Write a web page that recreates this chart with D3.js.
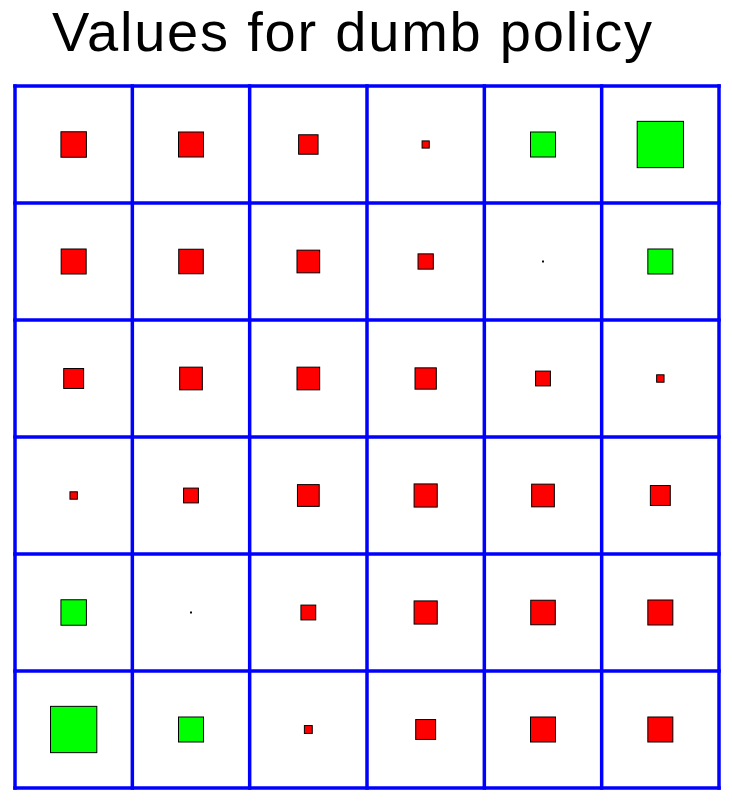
<!DOCTYPE html>
<html>
<head>
<meta charset="utf-8">
<script src="https://cdn.jsdelivr.net/npm/d3@7"></script>
<style>
  html, body { margin: 0; padding: 0; background: #fff; }
  svg { display: block; }
</style>
</head>
<body>
<svg id="chart" width="732" height="801"></svg>
<script>
const title = "Values for dumb policy";
const rows = [0, 1, 2, 3, 4, 5];
const cols = [0, 1, 2, 3, 4, 5];
const row0 = [-0.55, -0.54, -0.42, -0.155, 0.54, 1.0];
const row1 = [-0.54, -0.53, -0.49, -0.33, 0.02, 0.54];
const row2 = [-0.43, -0.49, -0.49, -0.46, -0.32, -0.16];
const row3 = [-0.16, -0.32, -0.47, -0.50, -0.49, -0.43];
const row4 = [0.55, 0.02, -0.32, -0.50, -0.53, -0.54];
const row5 = [1.0, 0.54, -0.17, -0.43, -0.54, -0.54];
const values = [row0, row1, row2, row3, row4, row5];

const svg = d3.select("#chart");
const x = d3.scaleLinear().domain([0, cols.length]).range([15, 719]);
const y = d3.scaleLinear().domain([0, rows.length]).range([86, 788]);
const size = d3.scaleLinear().domain([0, 1]).range([0, 46.3]);

svg.append("text")
  .attr("x", 52)
  .attr("y", 51)
  .attr("font-family", "Liberation Sans, Arial, sans-serif")
  .attr("font-size", 56)
  .attr("textLength", 600)
  .attr("lengthAdjust", "spacing")
  .attr("fill", "#000")
  .text(title);

const cells = [];
rows.forEach(r => cols.forEach(c => cells.push({ r, c, v: values[r][c] })));

svg.append("g").selectAll("rect")
  .data(cells)
  .join("rect")
  .attr("x", d => (x(d.c) + x(d.c + 1)) / 2 - size(Math.abs(d.v)) / 2)
  .attr("y", d => (y(d.r) + y(d.r + 1)) / 2 - size(Math.abs(d.v)) / 2)
  .attr("width", d => size(Math.abs(d.v)))
  .attr("height", d => size(Math.abs(d.v)))
  .attr("fill", d => d.v >= 0 ? "#00ff00" : "#ff0000")
  .attr("stroke", "#000")
  .attr("stroke-width", 1);

const grid = svg.append("g").attr("stroke", "#0000ff").attr("stroke-width", 3.5);
d3.range(cols.length + 1).forEach(i => {
  grid.append("line").attr("x1", x(i)).attr("x2", x(i)).attr("y1", y(0) - 1.75).attr("y2", y(rows.length) + 1.75);
});
d3.range(rows.length + 1).forEach(i => {
  grid.append("line").attr("y1", y(i)).attr("y2", y(i)).attr("x1", x(0) - 1.75).attr("x2", x(cols.length) + 1.75);
});
</script>
</body>
</html>
